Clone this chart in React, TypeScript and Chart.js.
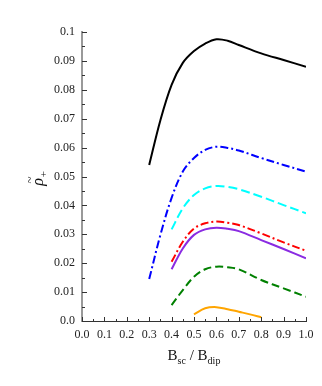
import React, { useEffect, useRef } from "react";
import { Chart, registerables } from "chart.js";

Chart.register(...registerables);

const xsFull = [0.3, 0.35, 0.4, 0.45, 0.5, 0.55, 0.6, 0.65, 0.7, 0.8, 0.9, 1.0];
const xsMid = [0.4, 0.45, 0.5, 0.55, 0.6, 0.65, 0.7, 0.8, 0.9, 1.0];
const xsOrange = [0.5, 0.55, 0.6, 0.65, 0.7, 0.75, 0.8];

const blackVals = [0.054, 0.0695, 0.0817, 0.0893, 0.0934, 0.096, 0.0975, 0.097, 0.0955, 0.0926, 0.0903, 0.088];
const blueVals = [0.0145, 0.0298, 0.0426, 0.0517, 0.0564, 0.0592, 0.0603, 0.0599, 0.059, 0.0564, 0.054, 0.0517];
const cyanVals = [0.0317, 0.039, 0.0436, 0.0459, 0.0467, 0.0464, 0.0456, 0.043, 0.0401, 0.0373];
const redVals = [0.0205, 0.0274, 0.032, 0.0338, 0.0344, 0.034, 0.0332, 0.0303, 0.0272, 0.0243];
const purpleVals = [0.0179, 0.0251, 0.0298, 0.0317, 0.0323, 0.0319, 0.0311, 0.028, 0.0249, 0.0217];
const greenVals = [0.0055, 0.0107, 0.0153, 0.0179, 0.0188, 0.0186, 0.0179, 0.0142, 0.0113, 0.0084];
const orangeVals = [0.0023, 0.0044, 0.0048, 0.0041, 0.0032, 0.0023, 0.0013];

const xTickLabels = ["0.0", "0.1", "0.2", "0.3", "0.4", "0.5", "0.6", "0.7", "0.8", "0.9", "1.0"];
const yTickLabels = ["0.0", "0.01", "0.02", "0.03", "0.04", "0.05", "0.06", "0.07", "0.08", "0.09", "0.1"];

const SERIF = "'Liberation Serif', 'Times New Roman', serif";

const pts = (xs: number[], ys: number[]) => xs.map((x, i) => ({ x, y: ys[i] }));

const decorPlugin = {
  id: "decor",
  afterDraw(chart: any) {
    const ctx = chart.ctx as CanvasRenderingContext2D;
    const xs = chart.scales.x;
    const ys = chart.scales.y;
    const { left, bottom } = chart.chartArea;
    ctx.save();
    ctx.strokeStyle = "#333";
    ctx.lineWidth = 1;
    for (let i = 0; i <= 20; i++) {
      const v = i * 0.005;
      const py = Math.round(ys.getPixelForValue(v)) + 0.5;
      const len = i % 2 === 0 ? 4 : 2;
      ctx.beginPath();
      ctx.moveTo(left, py);
      ctx.lineTo(left + 1 + len, py);
      ctx.stroke();
    }
    for (let i = 0; i <= 20; i++) {
      const v = i * 0.05;
      const px = Math.round(xs.getPixelForValue(v)) + 0.5;
      const len = i % 2 === 0 ? 4 : 2;
      ctx.beginPath();
      ctx.moveTo(px, bottom);
      ctx.lineTo(px, bottom - len);
      ctx.stroke();
    }
    ctx.fillStyle = "#111";
    const big = `15px ${SERIF}`;
    const small = `10px ${SERIF}`;
    const parts: [string, string, number][] = [
      ["B", big, 0],
      ["sc", small, 4],
      [" / B", big, 0],
      ["dip", small, 4],
    ];
    let total = 0;
    for (const [t, f] of parts) {
      ctx.font = f;
      total += ctx.measureText(t).width;
    }
    let cx = 194 - total / 2;
    const baseY = 360;
    ctx.textBaseline = "alphabetic";
    ctx.textAlign = "left";
    for (const [t, f, dy] of parts) {
      ctx.font = f;
      ctx.fillText(t, cx, baseY + dy);
      cx += ctx.measureText(t).width;
    }
    ctx.save();
    ctx.translate(43, 179);
    ctx.rotate(-Math.PI / 2);
    ctx.font = `italic 16px ${SERIF}`;
    const rw = ctx.measureText("ρ").width;
    ctx.fillText("ρ", -rw / 2 - 3, 0);
    ctx.font = `13px ${SERIF}`;
    const tw = ctx.measureText("~").width;
    ctx.fillText("~", -tw / 2 - 1, -9);
    ctx.font = `11px ${SERIF}`;
    ctx.fillText("+", rw / 2 - 2, 4);
    ctx.restore();
    ctx.restore();
  },
};

export default function App() {
  const ref = useRef<HTMLCanvasElement | null>(null);
  useEffect(() => {
    if (!ref.current) return;
    const common = { pointRadius: 0, borderWidth: 2, tension: 0.35, fill: false };
    const chart = new Chart(ref.current, {
      type: "line",
      data: {
        datasets: [
          { ...common, data: pts(xsFull, blackVals), borderColor: "#000000" },
          { ...common, data: pts(xsFull, blueVals), borderColor: "#0000ff", borderDash: [8, 3, 2, 3] },
          { ...common, data: pts(xsMid, cyanVals), borderColor: "#00ffff", borderDash: [9, 4] },
          { ...common, data: pts(xsMid, redVals), borderColor: "#ff0000", borderDash: [8, 3, 2, 3] },
          { ...common, data: pts(xsMid, purpleVals), borderColor: "#8a2be2" },
          { ...common, data: pts(xsMid, greenVals), borderColor: "#008000", borderDash: [8, 4] },
          { ...common, data: pts(xsOrange, orangeVals), borderColor: "#ffa500" },
        ] as any,
      },
      options: {
        animation: false,
        responsive: false,
        devicePixelRatio: 1,
        layout: { padding: { left: 0, top: 32, right: 16, bottom: 0 } },
        plugins: { legend: { display: false }, tooltip: { enabled: false } },
        scales: {
          x: {
            type: "linear",
            min: 0,
            max: 1,
            afterFit: (s: any) => { s.height = 65; },
            grid: { display: false, drawTicks: false },
            border: { display: true, color: "#333", width: 1 },
            ticks: {
              stepSize: 0.1,
              padding: 7,
              color: "#222",
              font: { family: SERIF, size: 12 },
              callback: (_v: any, i: number) => xTickLabels[i],
            },
          },
          y: {
            type: "linear",
            min: 0,
            max: 0.1,
            afterFit: (s: any) => { s.width = 82; },
            grid: { display: false, drawTicks: false },
            border: { display: true, color: "#999", width: 2 },
            ticks: {
              stepSize: 0.01,
              padding: 7,
              color: "#222",
              font: { family: SERIF, size: 12 },
              callback: (_v: any, i: number) => yTickLabels[i],
            },
          },
        },
      },
      plugins: [decorPlugin],
    });
    return () => chart.destroy();
  }, []);
  return (
    <div style={{ position: "absolute", left: 0, top: 0, width: 322, height: 386, background: "#fff" }}>
      <canvas ref={ref} width={322} height={386} style={{ width: 322, height: 386, display: "block" }} />
    </div>
  );
}
